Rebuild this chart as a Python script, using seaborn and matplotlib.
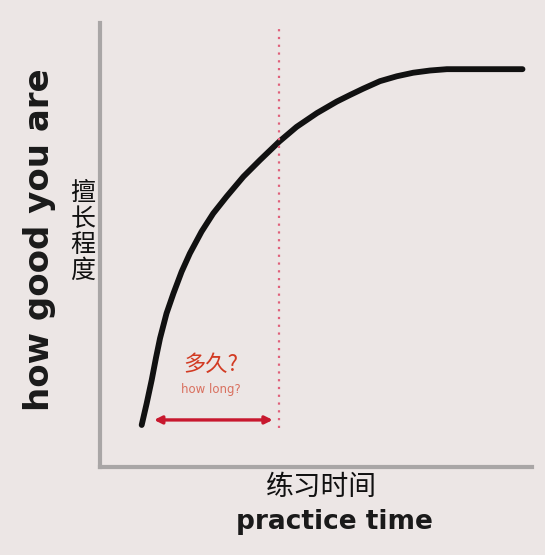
import numpy as np
import pandas as pd
import matplotlib
matplotlib.use("Agg")
import matplotlib.pyplot as plt
import seaborn as sns

# Data (practice time vs. how good you are, in 0-100 units)
practice_time = [9.65, 10.8, 11.97, 12.96, 13.9, 15.4, 17.0, 18.9, 20.8, 23.5,
                 26.2, 29.3, 33.2, 37.0, 41.5, 45.5, 50.2, 54.8, 57.9, 60.9,
                 64.8, 68.7, 72.5, 76.4, 80.3, 88.0, 97.8]
skill_level = [9.46, 14.3, 19.6, 24.6, 29.0, 34.6, 39.1, 44.0, 48.1, 53.0,
               57.1, 60.9, 65.4, 69.1, 73.3, 76.6, 79.7, 82.3, 83.8, 85.2,
               86.9, 88.0, 88.8, 89.3, 89.6, 89.6, 89.6]
marker_time = 41.4
arrow_start = 12.5
arrow_y = 10.6

df = pd.DataFrame({"practice time": practice_time, "skill": skill_level})

sns.set_theme(style="white")
plt.rcParams['font.family'] = ['Noto Sans CJK SC', 'DejaVu Sans']

bg = "#ece6e5"
fig = plt.figure(figsize=(5.45, 5.55), dpi=100, facecolor=bg)
ax = fig.add_axes([100/545, 1-467/555, 432/545, 444/555])
ax.set_facecolor(bg)

sns.lineplot(data=df, x="practice time", y="skill", ax=ax, color="#111111",
             linewidth=4.2, solid_capstyle="round", solid_joinstyle="round",
             sort=False)

ax.set_xlim(0, 100)
ax.set_ylim(0, 100)
ax.set_xticks([])
ax.set_yticks([])
ax.set_xlabel("")
ax.set_ylabel("")
for s in ["top", "right"]:
    ax.spines[s].set_visible(False)
for s in ["left", "bottom"]:
    ax.spines[s].set_color("#a9a6a6")
    ax.spines[s].set_linewidth(3)

# dotted marker line
ax.plot([marker_time, marker_time], [8.8, 99.8], linestyle=(0, (1, 2.5)),
        color="#e0607a", linewidth=1.6)

# double arrow
ax.annotate("", xy=(arrow_start, arrow_y), xytext=(marker_time - 1.4, arrow_y),
            arrowprops=dict(arrowstyle="<|-|>", color="#c8182e", lw=2.4,
                            mutation_scale=11, shrinkA=0, shrinkB=0))

ax.text(25.7, 23.0, "多久?", color="#d23a22", fontsize=16, ha="center", va="center")
ax.text(25.7, 17.5, "how long?", color="#d9705f", fontsize=8.5, ha="center",
        va="center", family=["DejaVu Sans"])

# axis labels
fig.text(40/545, 1-240/555, "how good you are", rotation=90, fontsize=24.5,
         fontweight="bold", ha="center", va="center", color="#1a1a1a",
         family=["DejaVu Sans"])
fig.text(83/545, 1-232/555, "擅\n长\n程\n度", fontsize=18, ha="center",
         va="center", color="#111111", linespacing=1.0)
fig.text(321/545, 1-487/555, "练习时间", fontsize=20, ha="center", va="center",
         color="#111111")
fig.text(334/545, 1-522/555, "practice time", fontsize=19, fontweight="bold",
         ha="center", va="center", color="#1a1a1a", family=["DejaVu Sans"])

fig.savefig("out.png", dpi=100, facecolor=bg)
